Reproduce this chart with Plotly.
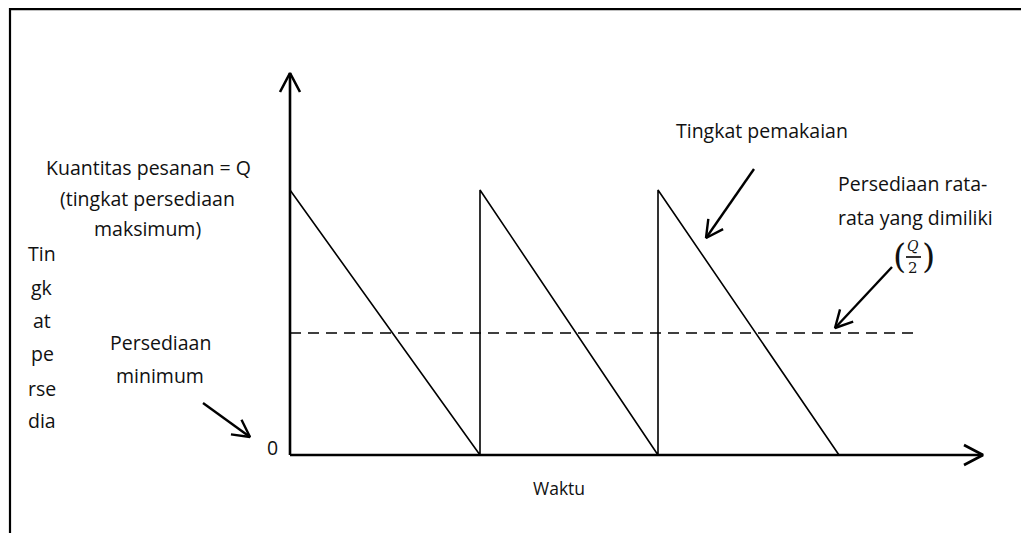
import numpy as np
import plotly.graph_objects as go

# inventory model (units: one unit = one screen pixel of the original sketch)
Q = 265                     # order quantity = max inventory
avg_level = 122             # average inventory carried (~Q/2 as drawn)
order_times = [0, 190, 368]  # moments a new order arrives
empty_times = [190, 368, 549]  # moments stock reaches zero
dash_end = 630
x_axis_end = 693
y_axis_end = 382

W, H = 1029, 533
X0, Y0 = 290, 455   # pixel position of the origin
OFF = 8             # page body margin


def P(px, py):
    return px - X0, Y0 - py


saw_x, saw_y = [], []
for t0, t1 in zip(order_times, empty_times):
    saw_x += [t0, t1]
    saw_y += [Q, 0]

fig = go.Figure()

fig.add_trace(go.Scatter(x=saw_x, y=saw_y, mode="lines",
                         line=dict(color="black", width=1.6)))
fig.add_trace(go.Scatter(x=[0, dash_end], y=[avg_level, avg_level], mode="lines",
                         line=dict(color="black", width=1.6, dash="11px,7px")))


def chevron(tx, ty, dx, dy, back=20, spread=10):
    # open arrow head at tip (tx, ty) pointing along (dx, dy)
    d = np.array([dx, dy], float)
    d /= np.linalg.norm(d)
    n = np.array([-d[1], d[0]])
    tip = np.array([tx, ty])
    a = tip - back * d + spread * n
    b = tip - back * d - spread * n
    return [a[0], tip[0], b[0]], [a[1], tip[1], b[1]]


# axes
ax_x = [0, x_axis_end, None, 0, 0]
ax_y = [0, 0, None, 0, y_axis_end]
hx, hy = chevron(x_axis_end, 0, 1, 0, 19, 10)
vx, vy = chevron(0, y_axis_end, 0, 1, 19, 10)
fig.add_trace(go.Scatter(x=ax_x + [None] + hx + [None] + vx,
                         y=ax_y + [None] + hy + [None] + vy,
                         mode="lines", line=dict(color="black", width=2.6)))

# pointer arrows (pixel coords start -> end)
pointers = [((203, 403), (250, 437)),
            ((754, 169), (706, 238)),
            ((892, 267), (835, 328))]
px_, py_ = [], []
for (sx, sy), (ex, ey) in pointers:
    s = P(sx, sy)
    e = P(ex, ey)
    cx, cy = chevron(e[0], e[1], e[0] - s[0], e[1] - s[1], 17, 9)
    px_ += [s[0], e[0], None] + cx + [None]
    py_ += [s[1], e[1], None] + cy + [None]
fig.add_trace(go.Scatter(x=px_, y=py_, mode="lines",
                         line=dict(color="black", width=2.4)))

# frame (top and left edges)
fx1, fy1 = P(10, 560)
fx2, fy2 = P(10, 9.2)
fx3, fy3 = P(1060, 9.2)
fig.add_trace(go.Scatter(x=[fx1, fx2, fx3], y=[fy1, fy2, fy3], mode="lines",
                         line=dict(color="black", width=2.2), cliponaxis=False))

FONT = "Open Sans"
labels = [
    ("Kuantitas pesanan = Q", 148, 167),
    ("(tingkat persediaan", 147, 198),
    ("maksimum)", 147, 228),
    ("Tin", 42, 253), ("gk", 42, 287), ("at", 42, 320),
    ("pe", 42, 353), ("rse", 42, 388), ("dia", 42, 420),
    ("Persediaan", 160, 342),
    ("minimum", 160, 375),
    ("0", 272, 447),
    ("Tingkat pemakaian", 762, 130),
    ("Persediaan rata-", 912, 183),
    ("rata yang dimiliki", 915, 217),
]
for txt, lx, ly in labels:
    x, y = P(lx, ly)
    fig.add_annotation(x=x, y=y, text=txt, showarrow=False,
                       font=dict(family=FONT, size=19.5, color="#111"))

x, y = P(559, 488)
fig.add_annotation(x=x, y=y, text="Waktu", showarrow=False,
                   font=dict(family=FONT, size=17.5, color="#111"))

# (Q/2) fraction
for txt, lx, ly, sz in [("<i>Q</i>", 913, 246, 14), ("2", 913, 268, 15),
                        ("(", 899, 256, 34), (")", 928, 256, 34)]:
    x, y = P(lx, ly)
    fig.add_annotation(x=x, y=y, text=txt, showarrow=False,
                       font=dict(family="DejaVu Serif", size=sz, color="#111"))
bx0, by = P(906, 257)
bx1, _ = P(921, 257)
fig.add_trace(go.Scatter(x=[bx0, bx1], y=[by, by], mode="lines",
                         line=dict(color="black", width=1.6)))

fig.update_layout(
    width=W, height=H,
    margin=dict(l=0, r=0, t=0, b=0),
    plot_bgcolor="white", paper_bgcolor="white",
    showlegend=False,
    xaxis=dict(range=[OFF - X0, OFF + W - X0], visible=False, fixedrange=True),
    yaxis=dict(range=[Y0 - OFF - H, Y0 - OFF], visible=False, fixedrange=True),
)

fig.write_html("out.html")
